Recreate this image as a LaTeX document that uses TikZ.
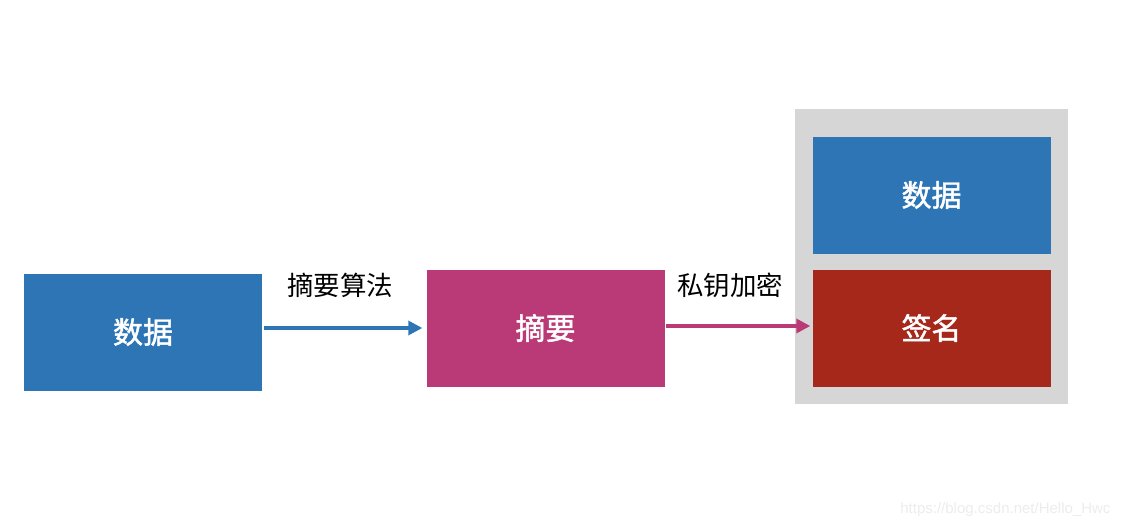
\documentclass[tikz,border=0pt]{standalone}
\usepackage{fontspec}
\setmainfont{Liberation Sans}
\newfontfamily\cjk{Noto Sans CJK SC}
\newfontfamily\cjkm{Noto Sans CJK SC}[FakeBold=1.6]
\usetikzlibrary{arrows.meta}
\definecolor{cblue}{HTML}{2E75B6}
\definecolor{cmag}{HTML}{BA3A77}
\definecolor{cred}{HTML}{A5281A}
\definecolor{cgray}{HTML}{D6D6D6}
\begin{document}
\begin{tikzpicture}[x=1pt,y=-1pt,
  box/.style={minimum width=238pt,minimum height=117pt,inner sep=0pt,text=white,font=\cjkm\fontsize{30}{34}\selectfont},
  lab/.style={font=\cjk\fontsize{26.5}{30}\selectfont,text=black},
  conn/.style={line width=3.3pt,-{Triangle[length=14pt,width=14pt]}}]
\useasboundingbox (0,0) rectangle (1122,528);
\fill[white] (0,0) rectangle (1122,528);
\fill[cgray] (795,109) rectangle (1068,404);
\node[box,fill=cblue] (d1) at (143,332) {数据};
\node[box,fill=cmag] (zy) at (545.5,328) {摘要};
\node[box,fill=cblue] (d2) at (931.5,195) {数据};
\node[box,fill=cred] (qm) at (931.5,328) {签名};
\draw[conn,cblue,shorten <=2pt,shorten >=4pt] (d1.east |- 0,328) -- (zy.west |- 0,328);
\draw[conn,cmag,shorten <=1pt,shorten >=2pt] (zy.east |- 0,326) -- (qm.west |- 0,326);
\node[lab] (l1) at (340,285) {摘要算法};
\node[lab] (l2) at (730,285) {私钥加密};
\node[font=\fontsize{15}{18}\selectfont,text=black!7,anchor=east] (wm) at (1114,510) {https://blog.csdn.net/Hello\_Hwc};
\end{tikzpicture}
\end{document}
